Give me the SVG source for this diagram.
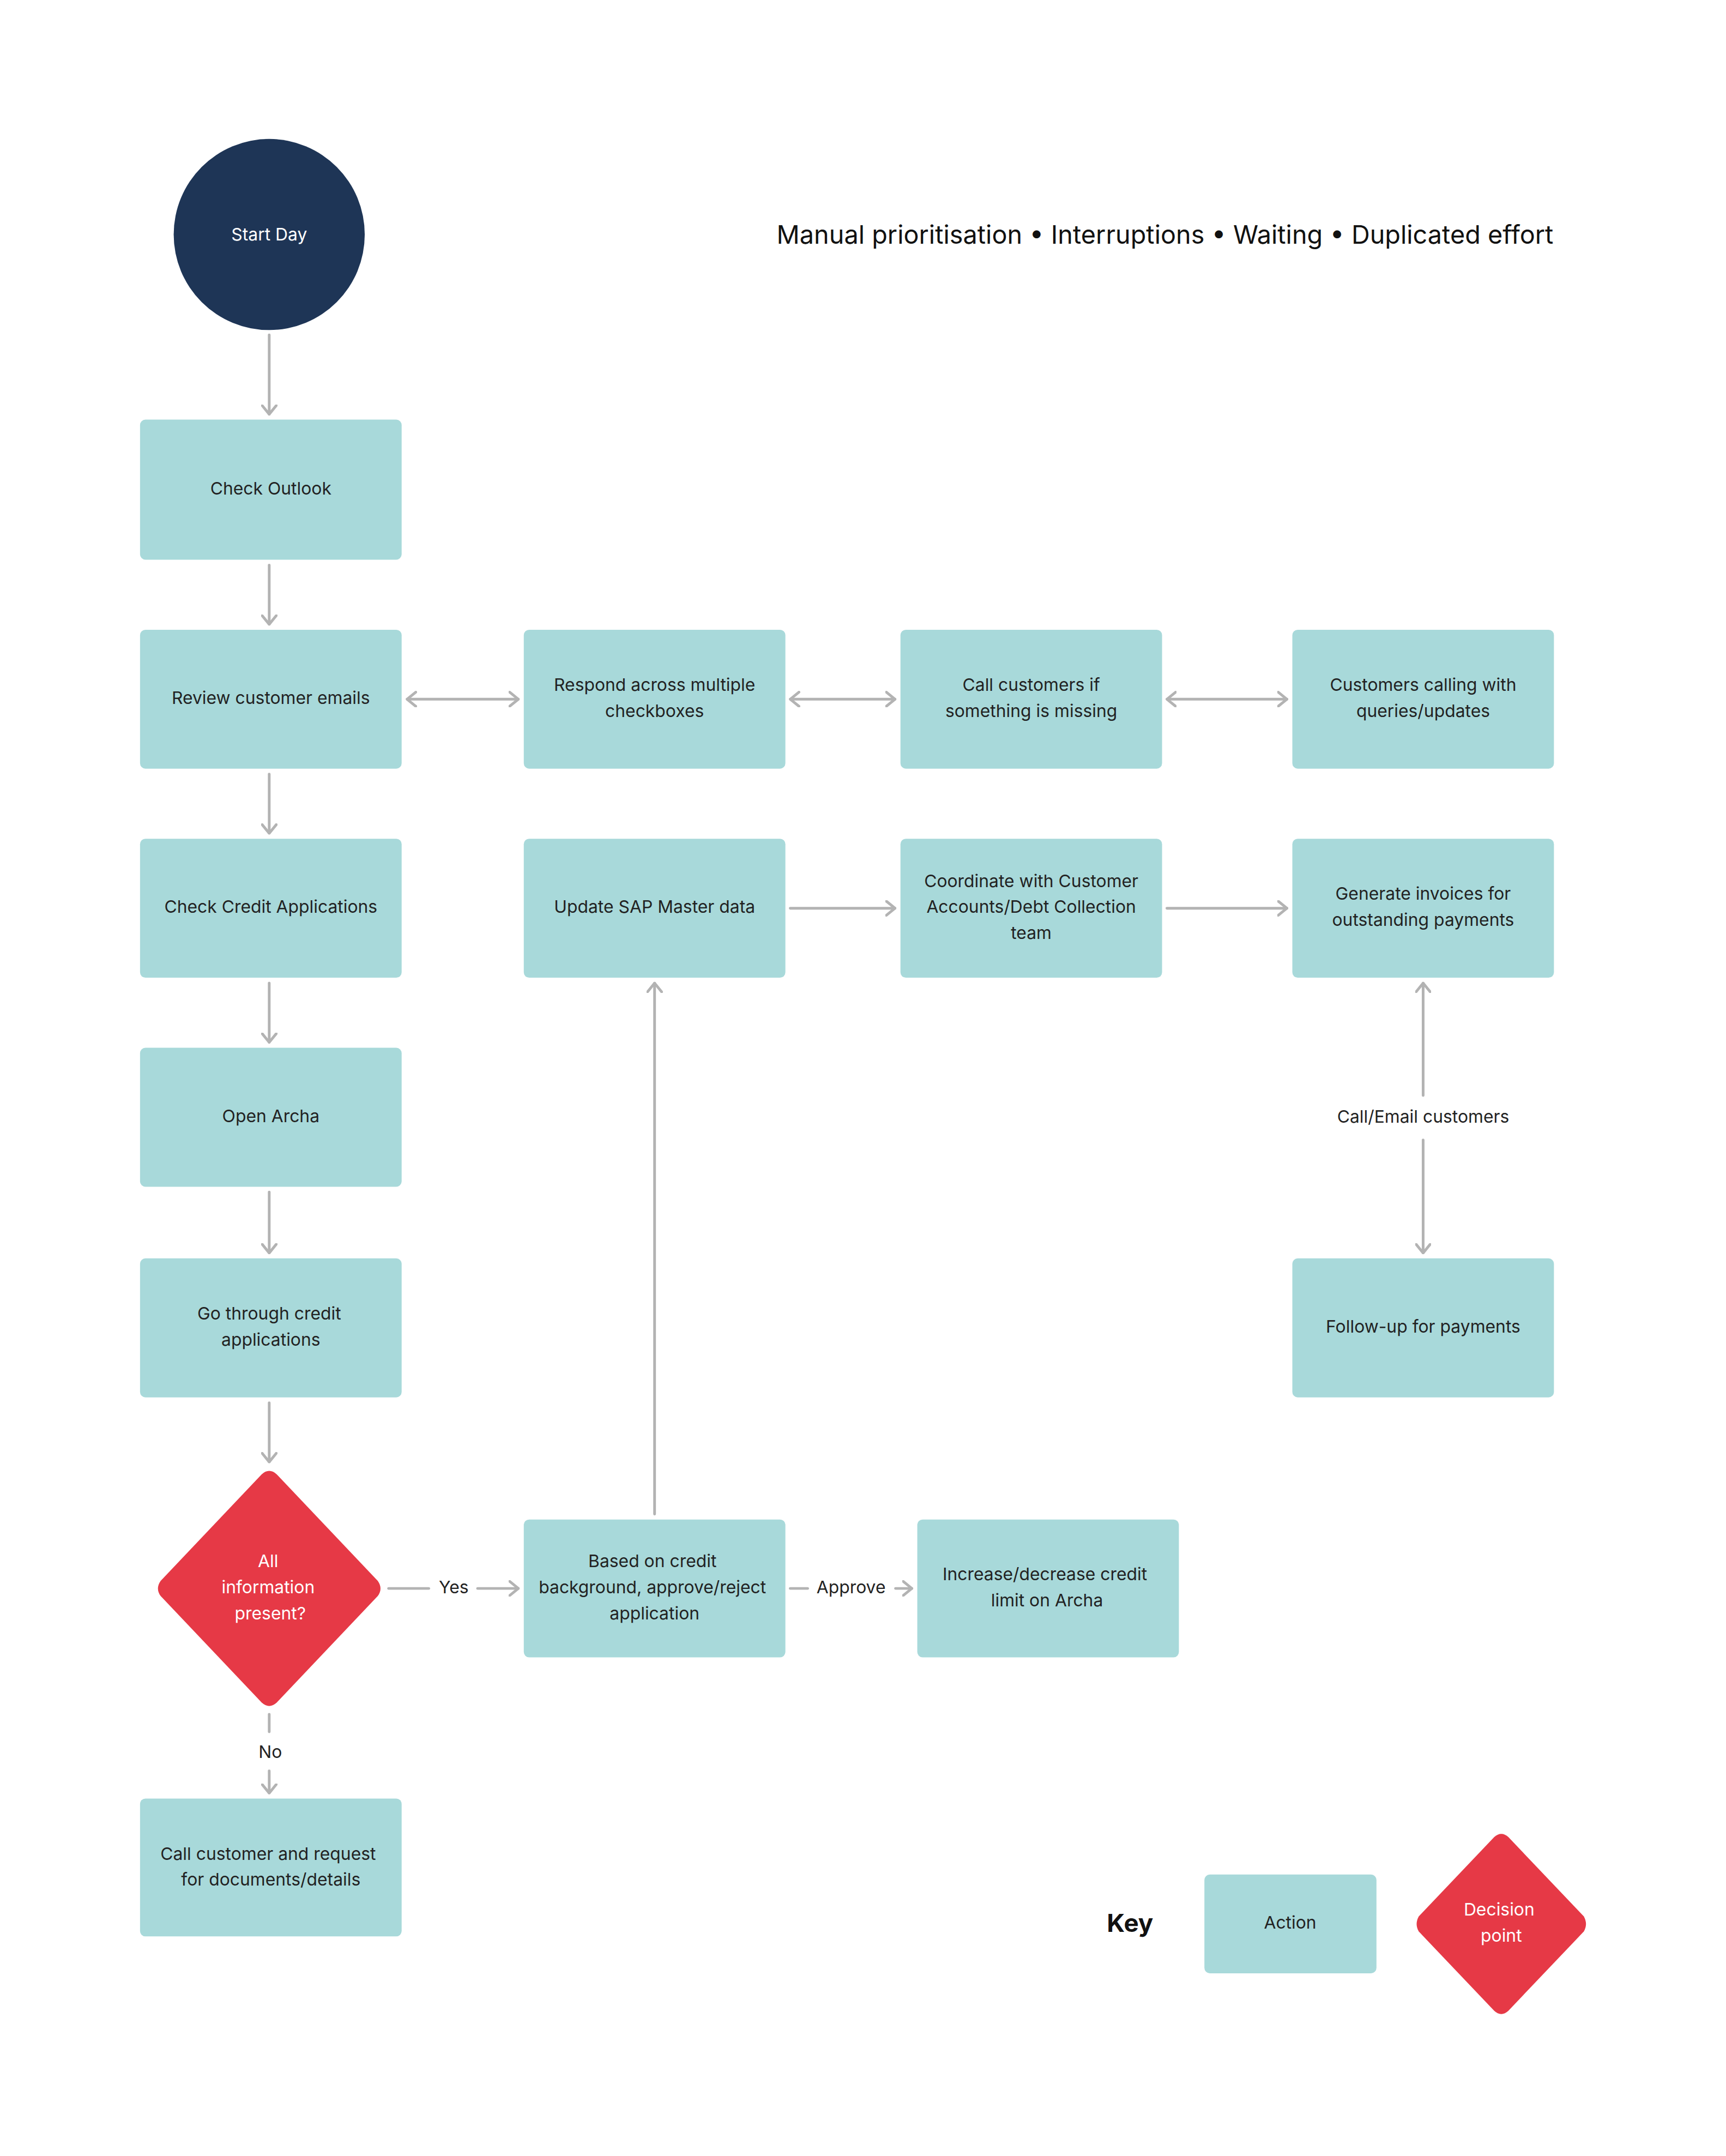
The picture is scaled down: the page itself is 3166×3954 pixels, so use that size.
<svg xmlns="http://www.w3.org/2000/svg" width="3166" height="3954" viewBox="0 0 3166 3954">
<style>
.box{fill:#a8d9da}
.t{font-family:Inter,"Liberation Sans",sans-serif;font-size:32px;fill:#222;text-anchor:middle;dominant-baseline:middle}
.w{fill:#fff}
.c{stroke:#b3b3b3;stroke-width:5;fill:none;stroke-linecap:round}
.d{fill:#e63946}
</style>
<defs>
<marker id="a" viewBox="0 0 20 30" refX="18" refY="15" markerWidth="20" markerHeight="30" markerUnits="userSpaceOnUse" orient="auto-start-reverse">
<path d="M2 2 L18 15 L2 28" fill="none" stroke="#b3b3b3" stroke-width="5" stroke-linecap="round" stroke-linejoin="round"/>
</marker>
</defs>
<rect width="3166" height="3954" fill="#fff"/>
<g transform="scale(0.9956)">
<text x="2862" y="436" font-family="Inter,'Liberation Sans',sans-serif" font-size="47" fill="#111" text-anchor="end" dominant-baseline="middle">Manual prioritisation • Interruptions • Waiting • Duplicated effort</text>
<g id="start"><circle cx="496" cy="432" r="176" fill="#1e3556"/><text class="t w" x="496" y="434">Start Day</text></g>
<g id="n1"><rect class="box" x="258" y="773" width="482" height="258" rx="10"/><text class="t" x="499" y="902">Check Outlook</text></g>
<g id="n2"><rect class="box" x="258" y="1160" width="482" height="256" rx="10"/><text class="t" x="499" y="1288">Review customer emails</text></g>
<g id="n3"><rect class="box" x="965" y="1160" width="482" height="256" rx="10"/><text class="t" x="1206" y="1264">Respond across multiple</text><text class="t" x="1206" y="1312">checkboxes</text></g>
<g id="n4"><rect class="box" x="1659" y="1160" width="482" height="256" rx="10"/><text class="t" x="1900" y="1264">Call customers if</text><text class="t" x="1900" y="1312">something is missing</text></g>
<g id="n5"><rect class="box" x="2381" y="1160" width="482" height="256" rx="10"/><text class="t" x="2622" y="1264">Customers calling with</text><text class="t" x="2622" y="1312">queries/updates</text></g>
<g id="n6"><rect class="box" x="258" y="1545" width="482" height="256" rx="10"/><text class="t" x="499" y="1673">Check Credit Applications</text></g>
<g id="n7"><rect class="box" x="965" y="1545" width="482" height="256" rx="10"/><text class="t" x="1206" y="1673">Update SAP Master data</text></g>
<g id="n8"><rect class="box" x="1659" y="1545" width="482" height="256" rx="10"/><text class="t" x="1900" y="1625">Coordinate with Customer</text><text class="t" x="1900" y="1673">Accounts/Debt Collection</text><text class="t" x="1900" y="1721">team</text></g>
<g id="n9"><rect class="box" x="2381" y="1545" width="482" height="256" rx="10"/><text class="t" x="2622" y="1649">Generate invoices for</text><text class="t" x="2622" y="1697">outstanding payments</text></g>
<g id="n10"><rect class="box" x="258" y="1930" width="482" height="256" rx="10"/><text class="t" x="499" y="2058">Open Archa</text></g>
<g id="n11"><rect class="box" x="258" y="2318" width="482" height="256" rx="10"/><text class="t" x="496" y="2422">Go through credit</text><text class="t" x="499" y="2470">applications</text></g>
<g id="n12"><rect class="box" x="2381" y="2318" width="482" height="256" rx="10"/><text class="t" x="2622" y="2446">Follow-up for payments</text></g>
<g id="dec"><path class="d" d="M482 2716 Q496 2703 510 2716 L696 2912 Q706 2926 696 2940 L510 3136 Q496 3149 482 3136 L296 2940 Q286 2926 296 2912 Z"/><text class="t w" x="494" y="2878">All</text><text class="t w" x="494" y="2926">information</text><text class="t w" x="498" y="2974">present?</text></g>
<g id="n13"><rect class="box" x="965" y="2799" width="482" height="254" rx="10"/><text class="t" x="1202" y="2878">Based on credit</text><text class="t" x="1202" y="2926">background, approve/reject</text><text class="t" x="1206" y="2974">application</text></g>
<g id="n14"><rect class="box" x="1690" y="2799" width="482" height="254" rx="10"/><text class="t" x="1925" y="2902">Increase/decrease credit</text><text class="t" x="1929" y="2950">limit on Archa</text></g>
<g id="n15"><rect class="box" x="258" y="3313" width="482" height="254" rx="10"/><text class="t" x="494" y="3417">Call customer and request</text><text class="t" x="499" y="3465">for documents/details</text></g>
<g id="key">
<text x="2082" y="3546" font-family="Inter,'Liberation Sans',sans-serif" font-size="46" font-weight="bold" fill="#111" text-anchor="middle" dominant-baseline="middle">Key</text>
<rect class="box" x="2219" y="3453" width="317" height="182" rx="10"/><text class="t" x="2377" y="3544">Action</text>
<path class="d" d="M2753 3384 Q2766 3372 2779 3384 L2918 3530 Q2926 3544 2918 3558 L2779 3704 Q2766 3716 2753 3704 L2614 3558 Q2606 3544 2614 3530 Z"/>
<text class="t w" x="2762" y="3520">Decision</text><text class="t w" x="2766" y="3568">point</text>
</g>
<g id="connectors" class="c">
<path class="c" d="M496 617 V763" marker-end="url(#a)"/>
<path class="c" d="M496 1041 V1150" marker-end="url(#a)"/>
<path class="c" d="M496 1426 V1535" marker-end="url(#a)"/>
<path class="c" d="M496 1811 V1920" marker-end="url(#a)"/>
<path class="c" d="M496 2196 V2308" marker-end="url(#a)"/>
<path class="c" d="M496 2584 V2693" marker-end="url(#a)"/>
<path class="c" d="M750 1288 H955" marker-start="url(#a)" marker-end="url(#a)"/>
<path class="c" d="M1456 1288 H1649" marker-start="url(#a)" marker-end="url(#a)"/>
<path class="c" d="M2150 1288 H2371" marker-start="url(#a)" marker-end="url(#a)"/>
<path class="c" d="M1456 1673 H1649" marker-end="url(#a)"/>
<path class="c" d="M2150 1673 H2371" marker-end="url(#a)"/>
<path class="c" d="M716 2926 H790"/>
<path class="c" d="M880 2926 H955" marker-end="url(#a)"/>
<path class="c" d="M1456 2926 H1488"/>
<path class="c" d="M1650 2926 H1680" marker-end="url(#a)"/>
<path class="c" d="M1206 2789 V1811" marker-end="url(#a)"/>
<path class="c" d="M2622 2018 V1811" marker-end="url(#a)"/>
<path class="c" d="M2622 2100 V2308" marker-end="url(#a)"/>
<path class="c" d="M496 3158 V3190"/>
<path class="c" d="M496 3262 V3303" marker-end="url(#a)"/>
</g>
<g id="labels">
<text class="t" x="836" y="2926">Yes</text>
<text class="t" x="1568" y="2926">Approve</text>
<text class="t" x="2622" y="2059">Call/Email customers</text>
<text class="t" x="498" y="3230">No</text>
</g>
</g>
</svg>
